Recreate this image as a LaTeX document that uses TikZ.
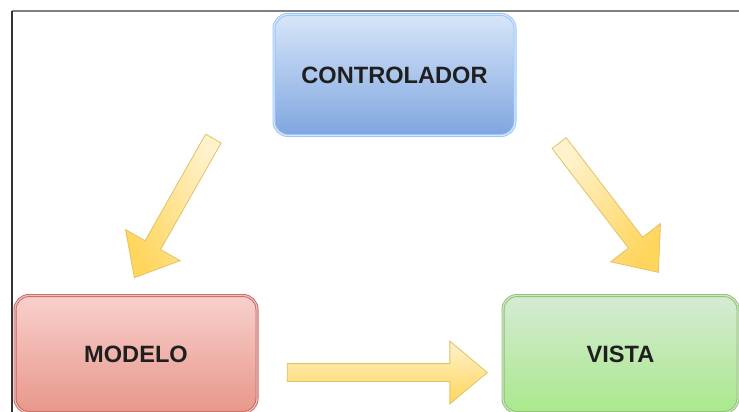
\documentclass[tikz,border=0pt]{standalone}
\usepackage{fontspec}
\setmainfont{Liberation Sans}
\usetikzlibrary{shapes.arrows}

\definecolor{ctrltop}{HTML}{D7E5F9}
\definecolor{ctrlbot}{HTML}{7FA6DF}
\definecolor{ctrlline}{HTML}{99C4F7}
\definecolor{modtop}{HTML}{F8D0CD}
\definecolor{modbot}{HTML}{E8978A}
\definecolor{modline}{HTML}{C9665E}
\definecolor{vistop}{HTML}{D6EAD4}
\definecolor{visbot}{HTML}{A9E98C}
\definecolor{visline}{HTML}{8CC072}
\definecolor{flechatop}{HTML}{FFF2CC}
\definecolor{flechabot}{HTML}{FFD55C}
\definecolor{flechaline}{HTML}{E2C266}

\tikzset{
  caja/.style n args={4}{rounded corners=14pt, minimum width=#1, minimum height=#2,
    draw=#3, double=white!60!#3, double distance=1.2pt, line width=0.9pt,
    shading=axis, top color=#3top, bottom color=#3bot,
    font=\bfseries\fontsize{23.6}{27}\selectfont, text=black!88},
  flecha/.style n args={3}{single arrow, draw=flechaline, line width=0.8pt,
    inner xsep=0pt, inner ysep=8.5pt, minimum height=#1,
    single arrow head extend=22.5pt, single arrow tip angle=80,
    rotate=#2, shading=axis, top color=flechatop, bottom color=flechabot,
    shading angle=#3}
}
\colorlet{ctrl}{ctrlline}
\colorlet{mod}{modline}
\colorlet{vis}{visline}

\begin{document}
\begin{tikzpicture}[x=1pt, y=-1pt]
  \useasboundingbox (0,0) rectangle (739,412);
  \clip (0,0) rectangle (739,412);

  % frame
  \draw[black!50, line width=2pt] (12,11) -- (739,11);
  \draw[black!80, line width=1.5pt] (12,11) -- (12,412);

  % boxes
  \node[caja={241pt}{121pt}{ctrl}] (controlador) at (394.5,75) {CONTROLADOR};
  \node[caja={242pt}{117pt}{mod}] (modelo) at (136,354) {MODELO};
  \node[caja={235pt}{117pt}{vis}] (vista) at (620.5,354) {VISTA};

  % arrows
  \node[flecha={160pt}{240.4}{-60.4}] (c2m) at (176.5,203.5) {};
  \node[flecha={163pt}{-52.5}{52.5}] (c2v) at (605.5,203.5) {};
  \node[flecha={200pt}{0}{0}] (m2v) at (382,372.5) {};
\end{tikzpicture}
\end{document}
